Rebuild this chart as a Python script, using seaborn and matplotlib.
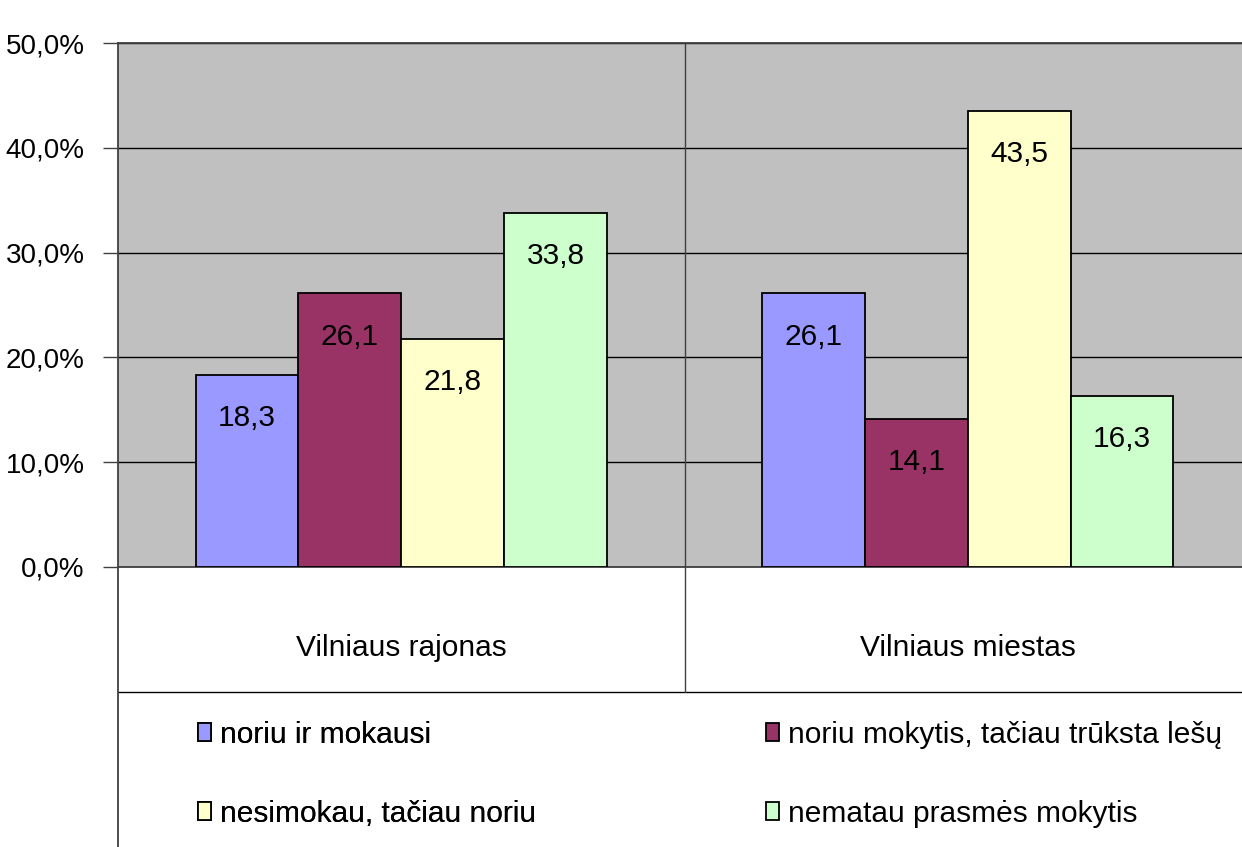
import pandas as pd
import numpy as np
import matplotlib
matplotlib.use("Agg")
import matplotlib.pyplot as plt
import seaborn as sns
from matplotlib.ticker import FuncFormatter, MultipleLocator
from matplotlib.patches import Patch

areas = ["Vilniaus rajonas", "Vilniaus miestas"]
answers = ["noriu ir mokausi", "noriu mokytis, tačiau trūksta lešų",
           "nesimokau, tačiau noriu", "nematau prasmės mokytis"]
rajonas = [18.3, 26.1, 21.8, 33.8]
miestas = [26.1, 14.1, 43.5, 16.3]
colors = ["#9999FF", "#993366", "#FFFFCC", "#CCFFCC"]


def build_frame():
    rows = []
    for area, vals in zip(areas, [rajonas, miestas]):
        for ans, v in zip(answers, vals):
            rows.append({"area": area, "answer": ans, "value": v})
    return pd.DataFrame(rows)


def main():
    df = build_frame()
    sns.set_style("white")
    plt.rcParams["font.family"] = ["Liberation Sans", "DejaVu Sans"]
    plt.rcParams["text.color"] = "black"
    plt.rcParams["xtick.color"] = "black"
    plt.rcParams["ytick.color"] = "black"
    fs = 21.5

    fig = plt.figure(figsize=(12.42, 8.47), dpi=100)
    ax = fig.add_axes([118 / 1242, 280 / 847, 1133 / 1242, 524 / 847])
    ax.set_facecolor("#C0C0C0")

    sns.barplot(data=df, x="area", y="value", hue="answer", hue_order=answers,
                palette=colors, width=0.726, edgecolor="black", linewidth=1.3,
                saturation=1, ax=ax, zorder=3)

    ax.set_xlim(-0.5, 1.5)
    ax.set_ylim(0, 50)
    ax.yaxis.set_major_locator(MultipleLocator(10))
    ax.yaxis.set_major_formatter(FuncFormatter(lambda v, p: f"{v:.1f}%".replace(".", ",")))
    ax.grid(axis="y", color="black", linewidth=1, zorder=1)
    ax.set_axisbelow(True)
    ax.set_xlabel("")
    ax.set_ylabel("")

    # value labels inside the bars
    for cont in ax.containers:
        for bar in cont:
            h = bar.get_height()
            ax.annotate(f"{h:.1f}".replace(".", ","),
                        (bar.get_x() + bar.get_width() / 2, h),
                        xytext=(0, -31), textcoords="offset points",
                        ha="center", va="center", fontsize=fs, color="black", zorder=5)

    ax.tick_params(axis="y", left=True, length=11, width=1, color="#404040",
                   pad=13, labelsize=20, labelcolor="black")
    ax.tick_params(axis="x", length=0, pad=48, labelsize=fs, labelcolor="black")

    for s in ["left", "top", "bottom"]:
        ax.spines[s].set_visible(True)
        ax.spines[s].set_color("#404040")
        ax.spines[s].set_linewidth(1.3)
    ax.spines["right"].set_visible(False)

    # table lines under the plot
    tr = ax.get_xaxis_transform()
    ax.plot([0.5, 0.5], [-0.2385, 1], transform=tr, color="#404040", lw=1, clip_on=False, zorder=4)
    ax.plot([0, 1], [-0.2385, -0.2385], transform=ax.transAxes, color="black", lw=1, clip_on=False)
    ax.plot([0, 0], [-0.54, 0], transform=ax.transAxes, color="#404040", lw=1.3, clip_on=False)

    ax.get_legend().remove()
    handles = [Patch(facecolor=c, edgecolor="black", linewidth=1.3) for c in colors]
    kw = dict(frameon=False, fontsize=fs, handlelength=0.45, handleheight=0.55,
              handletextpad=0.3, labelspacing=1.7, loc="upper left", borderpad=0,
              borderaxespad=0, labelcolor="black")
    leg1 = fig.legend([handles[0], handles[2]], [answers[0], answers[2]],
                      bbox_to_anchor=(198 / 1242, 1 - 721 / 847), **kw)
    fig.add_artist(leg1)
    fig.legend([handles[1], handles[3]], [answers[1], answers[3]],
               bbox_to_anchor=(766 / 1242, 1 - 721 / 847), **kw)

    fig.savefig("out.png", dpi=100)


if __name__ == "__main__":
    main()
